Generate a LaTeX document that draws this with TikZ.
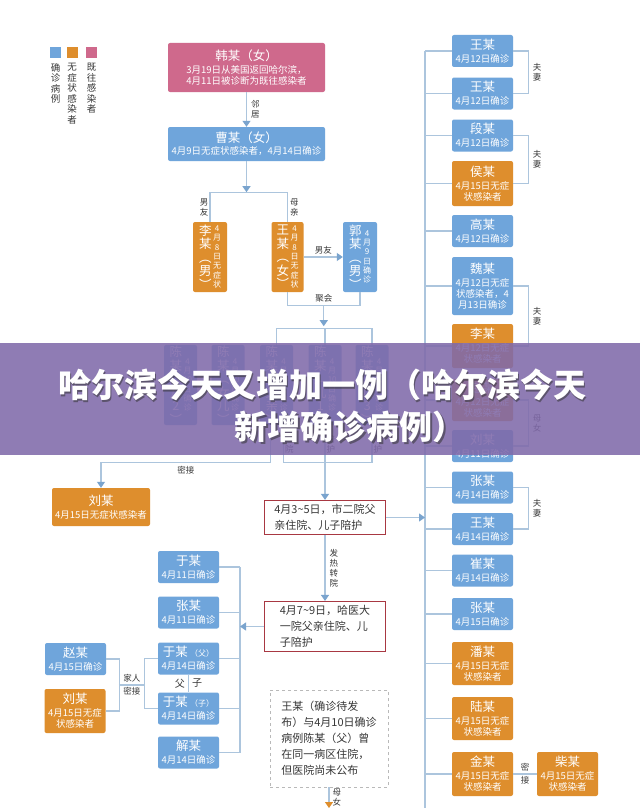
\documentclass[tikz,border=0pt]{standalone}
\usepackage{fontspec}
\setmainfont{Noto Sans CJK SC}
\newfontfamily\headfont{Noto Sans CJK SC}
\usetikzlibrary{positioning,arrows.meta,calc}
\definecolor{Blue}{RGB}{111,165,219}
\definecolor{Orange}{RGB}{222,142,45}
\definecolor{Pink}{RGB}{207,105,140}
\definecolor{Line}{RGB}{172,197,221}
\definecolor{Tip}{RGB}{122,164,206}
\definecolor{Frame}{RGB}{168,56,66}
\definecolor{Banner}{RGB}{128,106,170}
\definecolor{Ink}{RGB}{55,55,55}

\tikzset{
  pbox/.style={rounded corners=2pt,inner sep=1pt,align=center,text=white,
    minimum width=61pt,minimum height=32pt,font=\fontsize{9.5}{11}\selectfont},
  conf/.style={pbox,fill=Blue},
  asym/.style={pbox,fill=Orange},
  past/.style={pbox,fill=Pink},
  vbox/.style={minimum width=34pt,minimum height=70pt},
  chen/.style={conf,minimum width=33pt,minimum height=80pt},
  link/.style={draw=Line,line width=1.1pt},
  arr/.style={link,-{Triangle[width=8pt,length=6pt,color=Tip]}},
  tag/.style={font=\fontsize{8.5}{10}\selectfont,text=Ink,align=center,inner sep=0pt},
  event/.style={draw=Frame,line width=1pt,fill=white,text=Ink,align=left,
    font=\fontsize{11}{16}\selectfont,inner sep=4pt,minimum width=121pt},
  note/.style={draw=gray!55,dashed,fill=white,text=Ink,align=left,
    font=\fontsize{11}{16}\selectfont,minimum width=118pt,minimum height=97pt,inner sep=5pt},
  key/.style={minimum size=11pt,inner sep=0pt},
  legend/.style={font=\fontsize{9.5}{10.5}\selectfont,text=Ink,align=center,inner sep=0pt},
  head/.style={font=\headfont\bfseries\fontsize{33}{36}\selectfont,inner sep=0pt},
}
\newcommand\nm[1]{{\fontsize{12.5}{13}\selectfont #1}}
\newcommand\vt[2]{\parbox[c]{13pt}{\centering\fontsize{12.5}{13.5}\selectfont #1}%
  \hspace{1pt}\parbox[c]{8.5pt}{\centering\fontsize{8}{9.3}\selectfont #2}}

\begin{document}
\begin{tikzpicture}[x=1pt,y=-1pt]
\useasboundingbox (0,0) rectangle (640,808);
\fill[white] (0,0) rectangle (640,808);

% legend
\foreach \c/\x/\t in {Blue/55.5/{确\\诊\\病\\例},Orange/72/{无\\症\\状\\感\\染\\者},Pink/91.5/{既\\往\\感\\染\\者}}{
  \node[key,fill=\c] (key\c) at (\x,52.5) {};
  \node[legend,below=5pt of key\c] (lab\c) {\t};
}

% source of the chain
\node[past,minimum width=157pt,minimum height=49pt] (han) at (246.5,67.5)
  {\nm{韩某（女）}\\[2pt]3月19日从美国返回哈尔滨，\\4月11日被诊断为既往感染者};
\node[conf,minimum width=157pt,minimum height=34pt] (cao) at (246.5,144)
  {\nm{曹某（女）}\\[1pt]4月9日无症状感染者，4月14日确诊};
\draw[arr] (han) -- (cao) node[midway,right=4pt,tag]{邻\\居};

\node[asym,vbox] (li) at (210,257) {\vt{李\\某\\︵\\男\\︶}{4\\月\\8\\日\\无\\症\\状}};
\node[asym,vbox,minimum width=32pt] (wang) at (287.5,257) {\vt{王\\某\\︵\\女\\︶}{4\\月\\8\\日\\无\\症\\状}};
\node[conf,vbox] (guo) at (360,257) {\vt{郭\\某\\︵\\男\\︶}{4\\月\\9\\日\\确\\诊}};
\draw[arr] (cao.south) -- ++(0,31);
\draw[link] (li.north) -- ++(0,-29) node[midway,left=1pt,tag]{男\\友}
  -| (wang.north) node[pos=.75,right=2pt,tag]{母\\亲};
\draw[arr] (wang.east) -- (guo.west) node[midway,above=2pt,tag]{男友};
\draw[link] (wang.south) -- ++(0,13) -| (guo.south) node[pos=.25,above=2pt,tag]{聚会};
\coordinate (meet) at ($(wang.south)!.5!(guo.south)+(0,13)$);
\draw[arr] (meet) -- ++(0,21);

% the Chen family
\node[chen] (c1) at (180.5,385) {\vt{陈\\某\\︵\\儿\\2\\︶}{4\\月\\10\\日\\确\\诊}};
\node[chen] (c2) at (228,385) {\vt{陈\\某\\︵\\女\\儿\\︶}{4\\月\\10\\日\\确\\诊}};
\node[chen] (c3) at (276.5,385) {\vt{陈\\某\\︵\\父\\亲\\︶}{4\\月\\10\\日\\确\\诊}};
\node[chen] (c4) at (325,385) {\vt{陈\\某\\︵\\儿\\1\\︶}{4\\月\\10\\日\\确\\诊}};
\node[chen] (c5) at (372,385) {\vt{陈\\某\\︵\\儿\\3\\︶}{4\\月\\10\\日\\确\\诊}};
\draw[link] (c3.north) -- ++(0,-16) -| (c5.north);
\draw[link] (c4.north) -- ++(0,-16);

% hospital events
\node[event] (ev1) at (325,517.5) {4月3\textasciitilde5日，市二院父\\亲住院、儿子陪护};
\node[event] (ev2) at (325,626.5) {4月7\textasciitilde9日，哈医大\\一院父亲住院、儿\\子陪护};
\draw[link] ($(c3.south)+(7,0)$) -- ++(0,37) node[midway,right=1pt,tag]{住\\院}
  -| (c5.south) node[pos=.75,right=1pt,tag]{陪\\护};
\draw[arr] (c4.south) -- (c4.south |- ev1.north) node[pos=.25,right=1pt,tag]{陪\\护};
\draw[arr] (ev1) -- (ev2) node[midway,right=4pt,tag]{发\\热\\转\\院};

\node[asym,minimum width=98pt,minimum height=38pt] (liu1) at (101,507)
  {\nm{刘某}\\[2pt]4月15日无症状感染者};
\draw[arr] ($(c3.south)+(-6,0)$) -- ++(0,37) -| (liu1.north) node[pos=.25,below=3pt,tag]{密接};

% left branch
\coordinate (lsp) at (240,0);
\node[conf] (yu1) at (188.5,567) {\nm{于某}\\[2pt]4月11日确诊};
\node[conf] (zhang) at (188.5,612.5) {\nm{张某}\\[2pt]4月11日确诊};
\node[conf] (yuf) at (188.5,658.5) {\nm{于某}~{\fontsize{8}{9}\selectfont（父）}\\[2pt]4月14日确诊};
\node[conf] (yuz) at (188.5,708.5) {\nm{于某}~{\fontsize{8}{9}\selectfont（子）}\\[2pt]4月14日确诊};
\node[conf] (xie) at (188.5,752.5) {\nm{解某}\\[2pt]4月14日确诊};
\draw[link] (yu1.east -| lsp) -- (xie.east -| lsp);
\foreach \n in {yu1,zhang,yuf,yuz,xie}
  \draw[link] (\n.east) -- (\n.east -| lsp);
\draw[arr] (ev2.west) -- (ev2.west -| lsp);
\draw[link] (yuf) -- (yuz) node[midway,left=3pt,tag,font=\fontsize{10}{11}\selectfont]{父}
  node[midway,right=3pt,tag,font=\fontsize{10}{11}\selectfont]{子};

\node[conf] (zhao) at (75.5,659) {\nm{赵某}\\[2pt]4月15日确诊};
\node[asym,minimum height=44pt] (liu2) at (75,711) {\nm{刘某}\\[2pt]4月15日无症\\状感染者};
\draw[link] (zhao.east) -- ++(13,0) |- (liu2.east);
\draw[link] (yuf.west) -- ++(-13,0) |- (yuz.west);
\coordinate (kl) at ($(zhao.east)!.5!(liu2.east)+(13,0)$);
\coordinate (kr) at ($(yuf.west)!.5!(yuz.west)+(-13,0)$);
\draw[link] (kl) -- (kl -| kr) node[midway,above=2pt,tag]{家人} node[midway,below=2pt,tag]{密接};

% unpublished case
\node[note] (note) at (329,738.5) {王某（确诊待发\\布）与4月10日确诊\\病例陈某（父）曾\\在同一病区住院，\\但医院尚未公布};
\coordinate (notefoot) at (329,808);
\draw[link,-{Triangle[width=8pt,length=6pt,color=Orange]}] (note) -- (notefoot)
  node[midway,right=3pt,tag]{母\\女};

% right column
\coordinate (spine) at (425,0);
\coordinate (spinefoot) at (425,808);
\foreach \i/\k/\y/\h/\t in {
  1/conf/51/32/{\nm{王某}\\[2pt]4月12日确诊},
  2/conf/93.5/32/{\nm{王某}\\[2pt]4月12日确诊},
  3/conf/135.5/32/{\nm{段某}\\[2pt]4月12日确诊},
  4/asym/183.5/45/{\nm{侯某}\\[2pt]4月15日无症\\状感染者},
  5/conf/231/32/{\nm{高某}\\[2pt]4月12日确诊},
  6/conf/286/58/{\nm{魏某}\\[2pt]4月12日无症\\状感染者，4\\月13日确诊},
  7/asym/346/44/{\nm{李某}\\[2pt]4月12日无症\\状感染者},
  8/asym/400/42/{\nm{赵某}\\[2pt]4月12日无症\\状感染者},
  9/conf/446/32/{\nm{刘某}\\[2pt]4月11日确诊},
  10/conf/487.5/32/{\nm{张某}\\[2pt]4月14日确诊},
  11/conf/529/32/{\nm{王某}\\[2pt]4月14日确诊},
  12/conf/570.5/32/{\nm{崔某}\\[2pt]4月14日确诊},
  13/conf/614/32/{\nm{张某}\\[2pt]4月15日确诊},
  14/asym/663.5/43/{\nm{潘某}\\[2pt]4月15日无症\\状感染者},
  15/asym/718.5/43/{\nm{陆某}\\[2pt]4月15日无症\\状感染者},
  16/asym/774/44/{\nm{金某}\\[2pt]4月15日无症\\状感染者}}{
  \node[\k,minimum height=\h pt] (r\i) at (482.5,\y) {\t};
  \draw[link] (r\i.west -| spine) -- (r\i.west);
}
\draw[link] (r1.west -| spine) -- (spinefoot);
\draw[arr] (ev1.east) -- (ev1.east -| spine);
\foreach \a/\b/\t in {1/2/{夫\\妻},3/4/{夫\\妻},6/7/{夫\\妻},8/9/{母\\女},10/11/{夫\\妻}}
  \draw[link] (r\a.east) -- ++(15,0) |- (r\b.east) node[pos=.25,right=4pt,tag]{\t};
\node[asym,minimum height=44pt] (chai) at (567.5,774) {\nm{柴某}\\[2pt]4月15日无症\\状感染者};
\draw[link] (r16) -- (chai) node[midway,above=2pt,tag]{密} node[midway,below=2pt,tag]{接};

% banner over the chart
\fill[Banner,opacity=.88] (0,343) rectangle (640,455);
\node[head,text=black!80,opacity=.55] (sha) at (323.5,386.5) {哈尔滨今天又增加一例（哈尔滨今天};
\node[head,text=black!80,opacity=.55] (shb) at (351.5,428.5) {新增确诊病例）};
\node[head,text=white] (head1) at (322,385) {哈尔滨今天又增加一例（哈尔滨今天};
\node[head,text=white] (head2) at (350,427) {新增确诊病例）};
\end{tikzpicture}
\end{document}
